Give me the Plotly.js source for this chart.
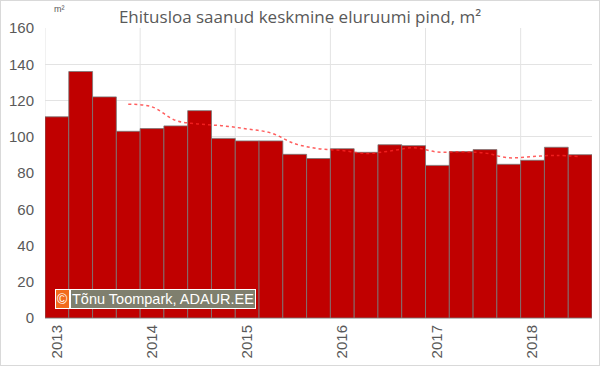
<!DOCTYPE html>
<html><head><meta charset="utf-8">
<script src="https://cdn.plot.ly/plotly-3.0.1.min.js"></script>
<style>body{margin:0;padding:0;background:#fff}#c{width:598px;height:364px;border:1px solid #d9d9d9}</style>
</head><body><div id="c"></div>
<script>
const quarters = ["2013 Q1","2013 Q2","2013 Q3","2013 Q4","2014 Q1","2014 Q2","2014 Q3","2014 Q4","2015 Q1","2015 Q2","2015 Q3","2015 Q4","2016 Q1","2016 Q2","2016 Q3","2016 Q4","2017 Q1","2017 Q2","2017 Q3","2017 Q4","2018 Q1","2018 Q2","2018 Q3"];
const areaValues = [111, 136, 122, 103, 104.5, 106, 114.4, 99.1, 97.7, 97.7, 90.3, 88, 93.4, 91.4, 95.6, 95.1, 84.2, 91.8, 92.9, 84.8, 87, 94.2, 90.1];
const movingAvgQuarters = quarters.slice(3);
const movingAvgValues = [118, 116.5, 109, 107, 106, 104.3, 102.1, 96.2, 93.4, 92.4, 90.8, 92.1, 93.9, 91.6, 91.7, 91, 88.4, 89.1, 89.7, 89];
const yearLabels = ["2013","2014","2015","2016","2017","2018"];
const yearStartQuarters = ["2013 Q1","2014 Q1","2015 Q1","2016 Q1","2017 Q1","2018 Q1"];

const idx = q => quarters.indexOf(q);
const xBars = quarters.map(idx);
const xMA = movingAvgQuarters.map(idx);
const tickvals = yearStartQuarters.map(idx);

const gray = '#595959';
const shapes = tickvals.map(v => ({type:'line', xref:'x', yref:'paper', x0:v-0.5, x1:v-0.5, y0:0, y1:1, line:{color:'#e3e3e3', width:1}, layer:'below'}));

const data = [
  {type:'bar', x:xBars, y:areaValues, marker:{color:'#C00000', line:{color:'rgba(120,120,120,0.8)', width:1}}, hoverinfo:'y'},
  {type:'scatter', mode:'lines', x:xMA, y:movingAvgValues, line:{color:'rgba(255,40,40,0.75)', width:1.5, dash:'dot', shape:'spline'}}
];
const layout = {
  width:598, height:364,
  margin:{l:44, r:7, t:27, b:47},
  paper_bgcolor:'#fff', plot_bgcolor:'#fff',
  showlegend:false, bargap:0,
  font:{family:'"Liberation Sans", Arial, sans-serif', color:gray},
  title:{text:'Ehitusloa saanud keskmine eluruumi pind, m²', font:{family:'"Open Sans", sans-serif', size:17, color:gray}, x:0.5, xanchor:'center', y:0.955, yanchor:'middle'},
  xaxis:{range:[-0.5, 22.5], tickvals:tickvals, ticktext:yearLabels, tickangle:-90, showgrid:false, zeroline:false, showline:true, linecolor:'#bfbfbf', ticks:'', tickfont:{size:15, color:gray}, fixedrange:true},
  yaxis:{range:[0,160], dtick:20, showgrid:true, gridcolor:'#e3e3e3', zeroline:false, showline:false, ticks:'', ticklabelstandoff:10, tickfont:{size:15, color:gray}, fixedrange:true},
  shapes:shapes,
  annotations:[
    {xref:'paper', yref:'paper', x:0.012, y:1.04, xanchor:'left', yanchor:'bottom', text:'m²', showarrow:false, font:{size:9, color:gray}},
    {xref:'paper', yref:'paper', x:0.018, y:0.031, xanchor:'left', yanchor:'bottom', text:'©', showarrow:false, bgcolor:'#F26A1B', bordercolor:'#ffffff', borderwidth:1, borderpad:1, font:{size:14, color:'#fff'}},
    {xref:'paper', yref:'paper', x:0.046, y:0.031, xanchor:'left', yanchor:'bottom', text:'Tõnu Toompark, ADAUR.EE', showarrow:false, bgcolor:'#7f7f6e', bordercolor:'#ffffff', borderwidth:1, borderpad:1, font:{size:14.5, color:'#fff'}}
  ]
};
Plotly.newPlot('c', data, layout, {displayModeBar:false, staticPlot:true});
</script></body></html>
